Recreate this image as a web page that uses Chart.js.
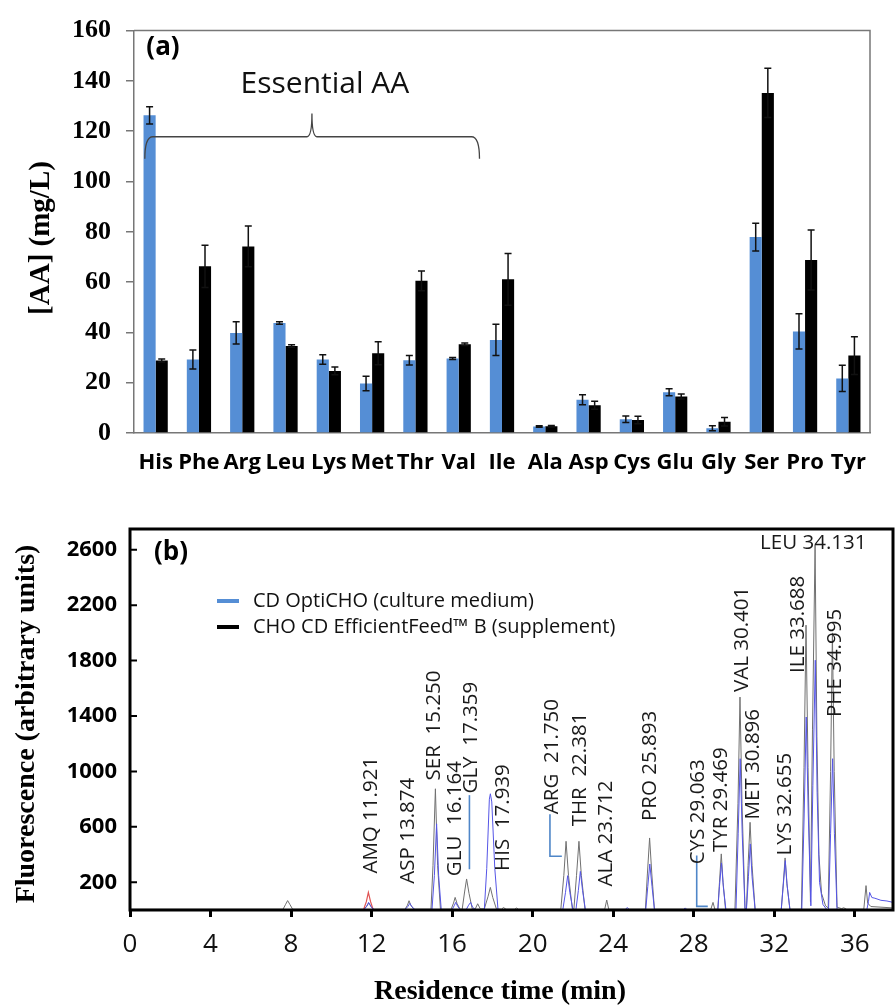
<!DOCTYPE html>
<html>
<head>
<meta charset="utf-8">
<script src="https://cdn.jsdelivr.net/npm/chart.js@4.4.0/dist/chart.umd.min.js"></script>
<style>
    html, body { margin: 0; padding: 0; background: #fff; }
    #wrap { position: relative; width: 896px; height: 1008px; }
    #topBox { position: absolute; left: 0; top: 0; width: 896px; height: 480px; }
    #bottomBox { position: absolute; left: 0; top: 480px; width: 896px; height: 528px; }
</style>
</head>
<body>
<div id="wrap">
    <div id="topBox"><canvas id="aaChart" width="896" height="480"></canvas></div>
    <div id="bottomBox"><canvas id="hplcChart" width="896" height="528"></canvas></div>
</div>
<script>
// ============= Data =============
// (a) amino acid concentrations, mg/L
const aminoAcids = ['His', 'Phe', 'Arg', 'Leu', 'Lys', 'Met', 'Thr', 'Val', 'Ile', 'Ala', 'Asp', 'Cys', 'Glu', 'Gly', 'Ser', 'Pro', 'Tyr'];
const mediumMean = [126.3, 29.2, 39.8, 43.7, 29.2, 19.7, 28.9, 29.6, 37.0, 2.6, 13.2, 5.5, 16.2, 1.9, 77.9, 40.4, 21.7];
const mediumErr = [3.4, 3.8, 4.4, 0.5, 1.9, 2.9, 1.9, 0.4, 6.2, 0.3, 2.0, 1.3, 1.4, 1.0, 5.5, 7.0, 5.2];
const feedMean = [28.8, 66.3, 74.2, 34.6, 24.7, 31.7, 60.5, 35.3, 61.1, 2.7, 11.0, 5.2, 14.5, 4.5, 135.2, 68.8, 30.8];
const feedErr = [0.6, 8.4, 8.1, 0.5, 1.5, 4.6, 3.9, 0.5, 10.3, 0.3, 1.6, 1.5, 1.0, 1.7, 9.8, 11.9, 7.5];
const concTicks = [0, 20, 40, 60, 80, 100, 120, 140, 160];

// (b) chromatograms: [time (min), fluorescence]
const mediumTrace = [
    [0, 3], [11.62, 3], [11.75, 25], [11.85, 55], [11.97, 25], [12.1, 3],
    [13.66, 3], [13.8, 25], [13.9, 48], [14.0, 25], [14.15, 3],
    [15.0, 3], [15.12, 250], [15.23, 622], [15.33, 250], [15.46, 3],
    [16.0, 3], [16.1, 30], [16.18, 55], [16.28, 25], [16.4, 3],
    [16.7, 3], [16.82, 35], [16.92, 55], [17.02, 20], [17.15, 3],
    [17.6, 3], [17.72, 300], [17.85, 800], [17.9, 839], [17.97, 780], [18.12, 300], [18.28, 3],
    [21.5, 3], [21.63, 125], [21.74, 248], [21.85, 125], [22.0, 3],
    [22.15, 3], [22.27, 140], [22.37, 279], [22.48, 140], [22.62, 3],
    [24.6, 3], [24.7, 18], [24.8, 3],
    [25.62, 3], [25.72, 170], [25.82, 332], [25.93, 170], [26.05, 3],
    [27.5, 3], [27.58, 15], [27.66, 3],
    [29.2, 3], [29.28, 170], [29.38, 340], [29.47, 170], [29.6, 3],
    [30.1, 3], [30.21, 550], [30.31, 1092], [30.41, 550], [30.55, 3],
    [30.62, 3], [30.72, 240], [30.81, 477], [30.9, 240], [31.05, 3],
    [32.35, 3], [32.45, 180], [32.55, 356], [32.64, 180], [32.78, 3],
    [33.37, 3], [33.49, 700], [33.59, 1393], [33.69, 700], [33.82, 30],
    [33.92, 900], [34.04, 1803], [34.13, 850], [34.25, 200], [34.42, 40], [34.6, 5],
    [34.7, 3], [34.8, 550], [34.9, 1092], [34.99, 550], [35.12, 3],
    [36.6, 3], [36.68, 60], [36.74, 127], [36.85, 90], [37.0, 85], [37.3, 70], [37.6, 65], [37.9, 55]
];
const feedTrace = [
    [0, 5], [7.6, 5], [7.72, 38], [7.83, 68], [7.95, 38], [8.08, 5],
    [11.62, 5], [11.76, 28], [11.86, 50], [11.97, 26], [12.1, 5],
    [13.66, 5], [13.78, 34], [13.86, 67], [13.95, 34], [14.1, 5],
    [14.95, 5], [15.05, 320], [15.17, 875], [15.28, 320], [15.42, 5],
    [15.95, 5], [16.07, 50], [16.15, 91], [16.25, 45], [16.4, 5],
    [16.5, 5], [16.62, 130], [16.72, 224], [16.84, 120], [17.0, 8],
    [17.15, 8], [17.27, 45], [17.4, 8],
    [17.6, 8], [17.78, 95], [17.9, 163], [18.02, 90], [18.2, 8],
    [18.45, 5], [18.55, 18], [18.68, 5], [19.1, 5], [19.2, 14], [19.3, 5],
    [21.4, 5], [21.55, 250], [21.66, 496], [21.78, 250], [21.97, 10],
    [22.05, 8], [22.18, 250], [22.3, 496], [22.42, 250], [22.6, 5],
    [23.58, 5], [23.68, 72], [23.78, 5],
    [25.6, 5], [25.7, 260], [25.81, 520], [25.92, 260], [26.05, 5],
    [28.85, 5], [28.96, 55], [29.05, 5],
    [29.2, 5], [29.28, 200], [29.37, 405], [29.46, 200], [29.58, 5],
    [30.05, 5], [30.2, 770], [30.3, 1537], [30.4, 770], [30.55, 10],
    [30.62, 10], [30.7, 320], [30.8, 633], [30.9, 320], [31.05, 5],
    [32.35, 5], [32.45, 190], [32.54, 376], [32.63, 190], [32.78, 5],
    [33.35, 5], [33.48, 1030], [33.58, 2056], [33.68, 1030], [33.8, 60],
    [33.9, 1300], [34.03, 2634], [34.12, 1250], [34.22, 400], [34.35, 120], [34.55, 30],
    [34.68, 15], [34.8, 1000], [34.89, 2000], [34.98, 1000], [35.12, 20],
    [35.35, 10], [35.45, 16], [35.6, 5],
    [36.45, 5], [36.56, 176], [36.64, 50], [36.8, 25], [37.9, 15]
];
const amqTrace = [[11.6, 2], [11.74, 60], [11.84, 127], [11.95, 60], [12.08, 2]];
const timeTicks = [0, 4, 8, 12, 16, 20, 24, 28, 32, 36];
const fluoTicks = [200, 600, 1000, 1400, 1800, 2200, 2600];

// peak annotations (anchor in data units: time, value where the text starts)
const peakNames = ['AMQ 11.921', 'ASP 13.874', 'SER  15.250', 'GLU  16.164', 'GLY  17.359', 'HIS  17.939',
    'ARG  21.750', 'THR  22.381', 'ALA 23.712', 'PRO 25.893', 'CYS 29.063', 'TYR 29.469',
    'VAL 30.401', 'MET 30.896', 'LYS 32.655', 'ILE 33.688', 'PHE 34.995'];
const peakLabelTime = [11.97, 13.83, 15.10, 16.15, 16.97, 18.54, 20.95, 22.35, 23.63, 25.83, 28.23, 29.36, 30.39, 30.96, 32.54, 33.20, 35.02];
const peakLabelBase = [263, 190, 935, 244, 841, 282, 692, 604, 170, 642, 331, 419, 1574, 654, 393, 1711, 1393];
const leaderLines = [
    [[16.86, 829], [16.86, 294]],
    [[20.86, 692], [20.86, 388], [21.45, 388]],
    [[28.15, 393], [28.15, 26], [28.70, 26]]
];

const BLUE_BAR = '#558ed5';
const SERIF = '"Liberation Serif", "Times New Roman", serif';
const SANS = '"Open Sans", sans-serif';

function drawText(ctx, text, x, y, font, opts) {
    opts = opts || {};
    ctx.save();
    ctx.font = font;
    ctx.fillStyle = opts.color || '#000';
    ctx.textAlign = opts.align || 'center';
    ctx.textBaseline = opts.baseline || 'middle';
    ctx.translate(x, y);
    if (opts.rotate) ctx.rotate(opts.rotate);
    ctx.fillText(text, 0, 0);
    ctx.restore();
}

// ============= (a) bar chart =============
const errorBars = {
    id: 'errorBars',
    afterDatasetsDraw(chart) {
        const { ctx } = chart;
        const y = chart.scales.y;
        ctx.save();
        ctx.strokeStyle = '#111';
        ctx.lineWidth = 1.5;
        chart.data.datasets.forEach((ds, i) => {
            chart.getDatasetMeta(i).data.forEach((bar, j) => {
                const top = y.getPixelForValue(ds.data[j] + ds.errors[j]);
                const bot = y.getPixelForValue(ds.data[j] - ds.errors[j]);
                ctx.beginPath();
                ctx.moveTo(bar.x, top); ctx.lineTo(bar.x, bot);
                ctx.moveTo(bar.x - 3.5, top); ctx.lineTo(bar.x + 3.5, top);
                ctx.moveTo(bar.x - 3.5, bot); ctx.lineTo(bar.x + 3.5, bot);
                ctx.stroke();
            });
        });
        ctx.restore();
    }
};

const panelA = {
    id: 'panelA',
    afterDraw(chart) {
        const { ctx, chartArea: a } = chart;
        const x = chart.scales.x, y = chart.scales.y;
        // box
        ctx.save();
        ctx.strokeStyle = '#777';
        ctx.lineWidth = 1.5;
        ctx.beginPath();
        ctx.moveTo(a.left, a.top); ctx.lineTo(a.right, a.top); ctx.lineTo(a.right, a.bottom);
        ctx.stroke();

        // brace over the essential amino acids
        const xl = x.getPixelForValue(-0.25), xr = x.getPixelForValue(7.48), xm = x.getPixelForValue(3.61);
        const yl = y.getPixelForValue(117.8), ye = y.getPixelForValue(109), yt = y.getPixelForValue(127);
        ctx.strokeStyle = '#444';
        ctx.lineWidth = 1.3;
        ctx.beginPath();
        ctx.moveTo(xl, ye);
        ctx.quadraticCurveTo(xl, yl, xl + 8, yl);
        ctx.lineTo(xm - 5, yl);
        ctx.quadraticCurveTo(xm, yl, xm, yt);
        ctx.quadraticCurveTo(xm, yl, xm + 5, yl);
        ctx.lineTo(xr - 8, yl);
        ctx.quadraticCurveTo(xr, yl, xr, ye);
        ctx.stroke();
        ctx.restore();

        drawText(ctx, 'Essential AA', x.getPixelForValue(3.91), y.getPixelForValue(138.5), '30px ' + SANS, { color: '#111' });
        drawText(ctx, '(a)', 163, 48, 'bold 26px ' + SANS);
        drawText(ctx, '[AA] (mg/L)', 42, 238, 'bold 29px ' + SERIF, { rotate: -Math.PI / 2 });
    }
};

new Chart(document.getElementById('aaChart'), {
    type: 'bar',
    data: {
        labels: aminoAcids,
        datasets: [
            { label: 'CD OptiCHO', data: mediumMean, errors: mediumErr, backgroundColor: BLUE_BAR, categoryPercentage: 0.56, barPercentage: 1 },
            { label: 'CHO CD EfficientFeed B', data: feedMean, errors: feedErr, backgroundColor: '#000', categoryPercentage: 0.56, barPercentage: 1 }
        ]
    },
    options: {
        responsive: false,
        animation: false,
        layout: { padding: { top: 22, right: 26, left: 0, bottom: 0 } },
        plugins: { legend: { display: false }, tooltip: { enabled: false } },
        scales: {
            x: {
                grid: { display: false, drawTicks: false },
                border: { color: '#777', width: 1.5 },
                ticks: { color: '#000', font: { family: SANS, weight: 'bold', size: 22 }, maxRotation: 0, autoSkip: false, padding: 17 },
                afterFit(s) { s.height = 47; }
            },
            y: {
                min: 0, max: 160,
                afterBuildTicks(s) { s.ticks = concTicks.map(v => ({ value: v })); },
                grid: { drawOnChartArea: false, tickLength: 8, color: '#777', lineWidth: 1.5 },
                border: { color: '#777', width: 1.5 },
                ticks: { color: '#000', font: { family: SERIF, weight: 'bold', size: 26 }, padding: 15 },
                afterFit(s) { s.width = 134; }
            }
        }
    },
    plugins: [errorBars, panelA]
});

// ============= (b) chromatogram =============
const panelB = {
    id: 'panelB',
    afterDraw(chart) {
        const { ctx, chartArea: a } = chart;
        const x = chart.scales.x, y = chart.scales.y;
        ctx.save();
        // frame
        ctx.strokeStyle = '#000';
        ctx.lineWidth = 3;
        ctx.strokeRect(a.left, a.top, a.right - a.left, a.bottom - a.top);
        // inner y ticks
        ctx.lineWidth = 2;
        ctx.beginPath();
        fluoTicks.forEach(v => {
            const py = y.getPixelForValue(v);
            ctx.moveTo(a.left, py); ctx.lineTo(a.left + 7, py);
        });
        ctx.stroke();

        // leader lines
        ctx.strokeStyle = '#4f86c8';
        ctx.lineWidth = 1.6;
        leaderLines.forEach(line => {
            ctx.beginPath();
            line.forEach((p, k) => {
                const px = x.getPixelForValue(p[0]), py = y.getPixelForValue(p[1]);
                if (k === 0) ctx.moveTo(px, py); else ctx.lineTo(px, py);
            });
            ctx.stroke();
        });

        // legend
        ctx.lineWidth = 4;
        ctx.strokeStyle = BLUE_BAR;
        ctx.beginPath(); ctx.moveTo(217, 121); ctx.lineTo(239, 121); ctx.stroke();
        ctx.strokeStyle = '#000';
        ctx.beginPath(); ctx.moveTo(217, 147); ctx.lineTo(239, 147); ctx.stroke();
        ctx.restore();
        drawText(ctx, 'CD OptiCHO (culture medium)', 253, 121, '20px ' + SANS, { align: 'left', color: '#111' });
        drawText(ctx, 'CHO CD EfficientFeed\u2122 B (supplement)', 253, 147, '20px ' + SANS, { align: 'left', color: '#111' });

        // peak labels
        peakNames.forEach((name, i) => {
            drawText(ctx, name, x.getPixelForValue(peakLabelTime[i]), y.getPixelForValue(peakLabelBase[i]),
                '20.5px ' + SANS, { align: 'left', rotate: -Math.PI / 2, color: '#1a1a1a' });
        });
        drawText(ctx, 'LEU 34.131', x.getPixelForValue(33.94), y.getPixelForValue(2649), '20.5px ' + SANS, { color: '#1a1a1a' });

        drawText(ctx, '(b)', 171, 73, 'bold 26px ' + SANS);
        drawText(ctx, 'Fluorescence (arbitrary units)', 27, 244, 'bold 28px ' + SERIF, { rotate: -Math.PI / 2 });
        drawText(ctx, 'Residence time (min)', 500, 512, 'bold 28px ' + SERIF);
    }
};

const toXY = pts => pts.map(p => ({ x: p[0], y: p[1] }));

new Chart(document.getElementById('hplcChart'), {
    type: 'line',
    data: {
        datasets: [
            { label: 'CD OptiCHO (culture medium)', data: toXY(mediumTrace), borderColor: '#5555e6', borderWidth: 1, pointRadius: 0, tension: 0 },
            { label: 'AMQ', data: toXY(amqTrace), borderColor: '#e05252', borderWidth: 1.2, pointRadius: 0, tension: 0 },
            { label: 'CHO CD EfficientFeed B (supplement)', data: toXY(feedTrace), borderColor: '#707070', borderWidth: 1, pointRadius: 0, tension: 0 }
        ]
    },
    options: {
        responsive: false,
        animation: false,
        layout: { padding: { top: 49, right: 3, left: 0, bottom: 0 } },
        plugins: { legend: { display: false }, tooltip: { enabled: false } },
        scales: {
            x: {
                type: 'linear', min: 0, max: 37.9,
                afterBuildTicks(s) { s.ticks = timeTicks.map(v => ({ value: v })); },
                grid: { drawOnChartArea: false, drawTicks: true, tickLength: 7, lineWidth: 3, color: '#000' },
                border: { display: false },
                ticks: { color: '#111', font: { family: SANS, size: 26 }, padding: 12, maxRotation: 0 },
                afterFit(s) { s.height = 98; }
            },
            y: {
                min: 0, max: 2750,
                afterBuildTicks(s) { s.ticks = fluoTicks.map(v => ({ value: v })); },
                grid: { display: false, drawTicks: false },
                border: { display: false },
                ticks: { color: '#000', font: { family: SANS, weight: 'bold', size: 22 }, padding: 13, callback: v => String(v) },
                afterFit(s) { s.width = 130; }
            }
        }
    },
    plugins: [panelB]
});
</script>
</body>
</html>
